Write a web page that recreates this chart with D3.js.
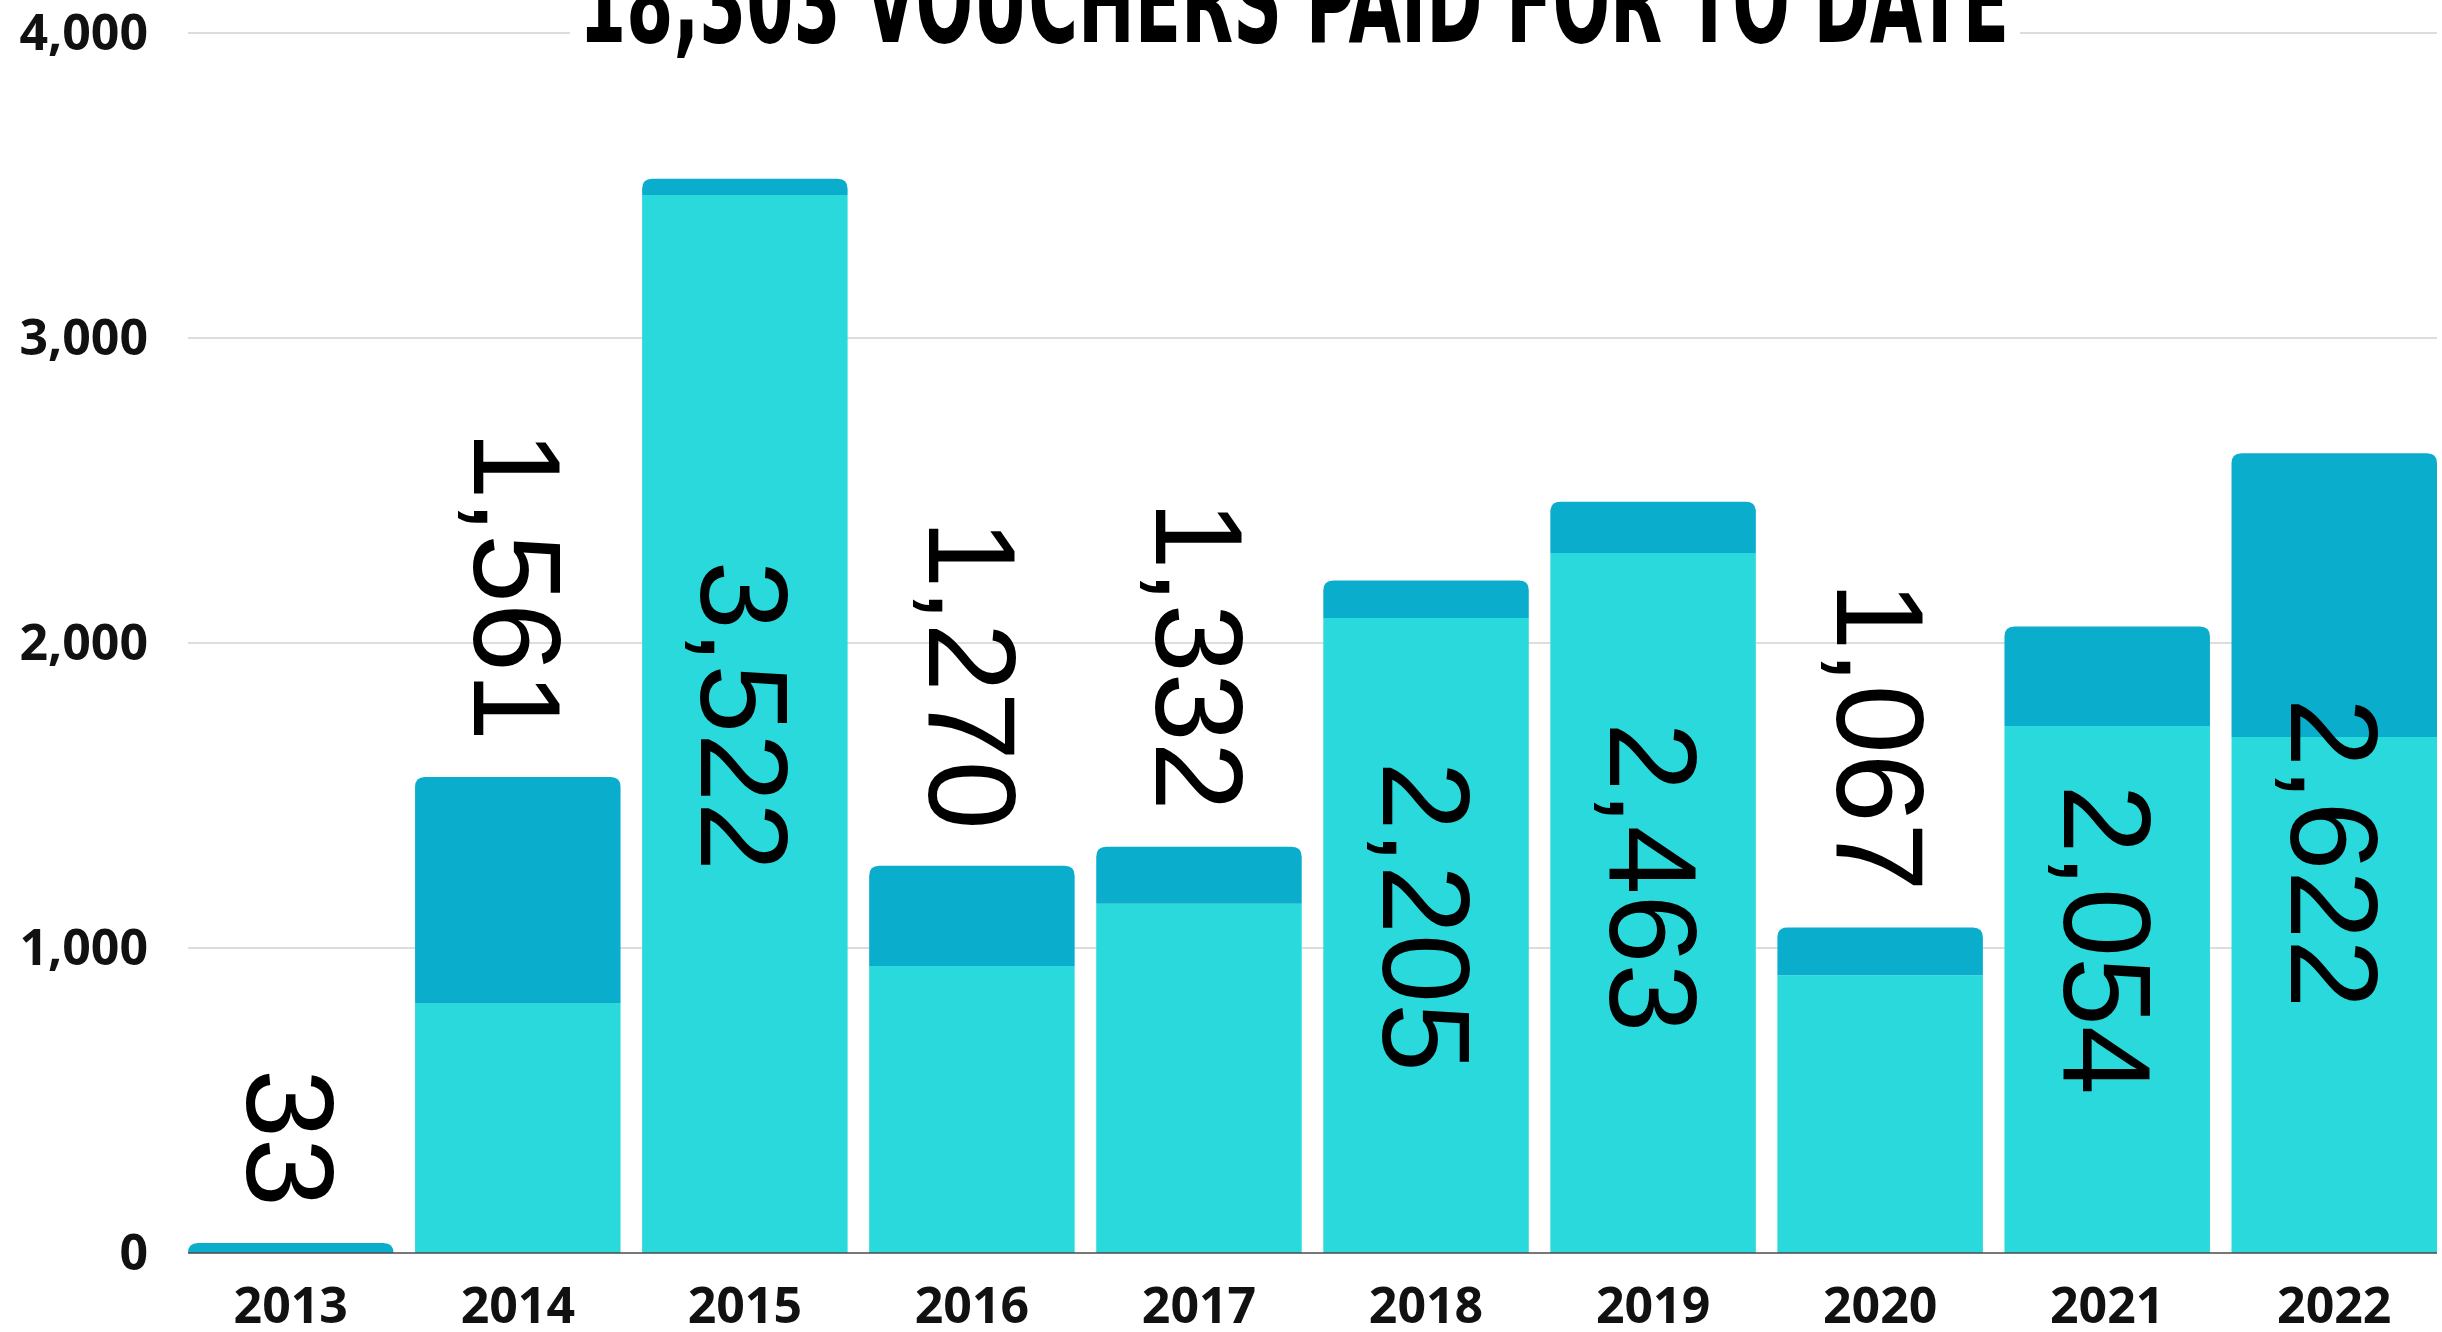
<!DOCTYPE html>
<html>
<head>
<meta charset="utf-8">
<script src="https://cdn.jsdelivr.net/npm/d3@7"></script>
<style>
  html, body { margin: 0; padding: 0; background: #fff; }
  #vis-barras { width: 2442px; height: 1332px; }
  .rotulo { font-family: "Liberation Sans", Arimo, Arial, Helvetica, "Noto Sans", sans-serif; }
</style>
</head>
<body>
<div id="vis-barras"></div>
<script>
// dados
const anos = ["2013", "2014", "2015", "2016", "2017", "2018", "2019", "2020", "2021", "2022"];
const parteInferior = [0, 820, 3469, 941, 1145, 2082, 2295, 911, 1728, 1692];
const parteSuperior = [33, 741, 53, 329, 187, 123, 168, 156, 326, 930];
const ticksY = [0, 1000, 2000, 3000, 4000];
const titulo = "18,303 VOUCHERS PAID FOR TO DATE";

function montarBarras() {
  const container = d3.select("#vis-barras");
  container.selectAll("*").remove();

  const width = 2442, height = 1332;
  const margins = { top: 33, right: 5, bottom: 79, left: 188 };

  const svg = container.append("svg")
      .attr("width", width)
      .attr("height", height);

  const dados = anos.map((ano, i) => ({
    ano,
    inferior: parteInferior[i],
    superior: parteSuperior[i]
  }));

  const series = d3.stack().keys(["inferior", "superior"])(dados);

  const x = d3.scaleBand()
      .domain(anos)
      .range([margins.left, width - margins.right])
      .paddingInner(0.095)
      .paddingOuter(0);

  const y = d3.scaleLinear()
      .domain([0, 4000])
      .range([height - margins.bottom, margins.top]);

  const cores = { inferior: "#2ad9dc", superior: "#0badcd" };

  // linhas de grade
  svg.append("g")
    .selectAll("line")
    .data(ticksY.filter(t => t > 0))
    .enter()
    .append("line")
      .attr("x1", margins.left)
      .attr("x2", width - margins.right)
      .attr("y1", d => y(d))
      .attr("y2", d => y(d))
      .attr("stroke", "#dddddd")
      .attr("stroke-width", 2);

  // eixo Y
  const eixoY = svg.append("g")
      .attr("transform", `translate(148, 0)`)
      .call(d3.axisLeft(y).tickValues(ticksY).tickSize(0).tickPadding(0).tickFormat(d3.format(",")));
  eixoY.select(".domain").remove();
  eixoY.selectAll("text")
      .attr("font-family", "'Open Sans', sans-serif")
      .attr("font-weight", "bold")
      .attr("font-size", "50px")
      .attr("fill", "#111")
      .attr("text-anchor", "end");

  // retangulo com cantos arredondados so em cima
  function topoArredondado(x0, y0, w, h, r) {
    r = Math.min(r, h, w / 2);
    return `M${x0},${y0 + h}V${y0 + r}Q${x0},${y0} ${x0 + r},${y0}` +
           `H${x0 + w - r}Q${x0 + w},${y0} ${x0 + w},${y0 + r}V${y0 + h}Z`;
  }

  const grupos = svg.append("g")
    .selectAll("g")
    .data(series)
    .enter()
    .append("g")
      .attr("fill", d => cores[d.key]);

  grupos.selectAll("path")
    .data(d => d.map(s => ({ key: d.key, s })))
    .enter()
    .append("path")
      .attr("d", d => {
        const x0 = x(d.s.data.ano);
        const yTop = y(d.s[1]);
        const h = y(d.s[0]) - yTop;
        if (h <= 0) return null;
        if (d.key === "superior") return topoArredondado(x0, yTop, x.bandwidth(), h, 10);
        return `M${x0},${yTop}h${x.bandwidth()}v${h}h${-x.bandwidth()}Z`;
      });

  // linha base
  svg.append("line")
      .attr("x1", margins.left)
      .attr("x2", width - margins.right)
      .attr("y1", y(0))
      .attr("y2", y(0))
      .attr("stroke", "#4a4a4a")
      .attr("stroke-width", 1.5);

  // eixo X
  const eixoX = svg.append("g")
      .attr("transform", `translate(0, ${y(0)})`)
      .call(d3.axisBottom(x).tickSize(0).tickPadding(0));
  eixoX.select(".domain").remove();
  eixoX.selectAll("text")
      .attr("dy", 0)
      .attr("y", 70)
      .attr("font-family", "'Open Sans', sans-serif")
      .attr("font-weight", "bold")
      .attr("font-size", "50px")
      .attr("fill", "#111");

  // rotulos verticais com o total
  const rotulos = svg.append("g")
    .selectAll("text")
    .data(dados)
    .enter()
    .append("text")
      .attr("class", "rotulo")
      .attr("font-size", "124px")
      .attr("fill", "#000")
      .attr("dy", "0.35em")
      .text(d => d3.format(",")(d.inferior + d.superior));

  rotulos.each(function(d) {
    const total = d.inferior + d.superior;
    const cx = x(d.ano) + x.bandwidth() / 2;
    const alturaBarra = y(0) - y(total);
    const comp = this.getComputedTextLength();
    const el = d3.select(this);
    if (alturaBarra - comp > 240) {
      el.attr("text-anchor", "middle")
        .attr("transform", `translate(${cx}, ${(y(0) + y(total)) / 2}) rotate(90)`);
    } else {
      el.attr("text-anchor", "end")
        .attr("transform", `translate(${cx}, ${y(total) - 36}) rotate(90)`);
    }
  });

  // titulo (cortado no topo, com fundo branco)
  svg.append("rect")
      .attr("x", 570)
      .attr("y", 0)
      .attr("width", 1450)
      .attr("height", 46)
      .attr("fill", "#fff");

  svg.append("text")
      .attr("x", 1294)
      .attr("y", 42)
      .attr("text-anchor", "middle")
      .attr("font-family", "'DejaVu Sans Condensed', 'Liberation Sans Narrow', 'DejaVu Sans', sans-serif")
      .attr("font-weight", "bold")
      .attr("font-size", "116px")
      .attr("textLength", 1430)
      .attr("lengthAdjust", "spacingAndGlyphs")
      .attr("fill", "#000")
      .text(titulo);

  return svg;
}

montarBarras();
</script>
</body>
</html>
